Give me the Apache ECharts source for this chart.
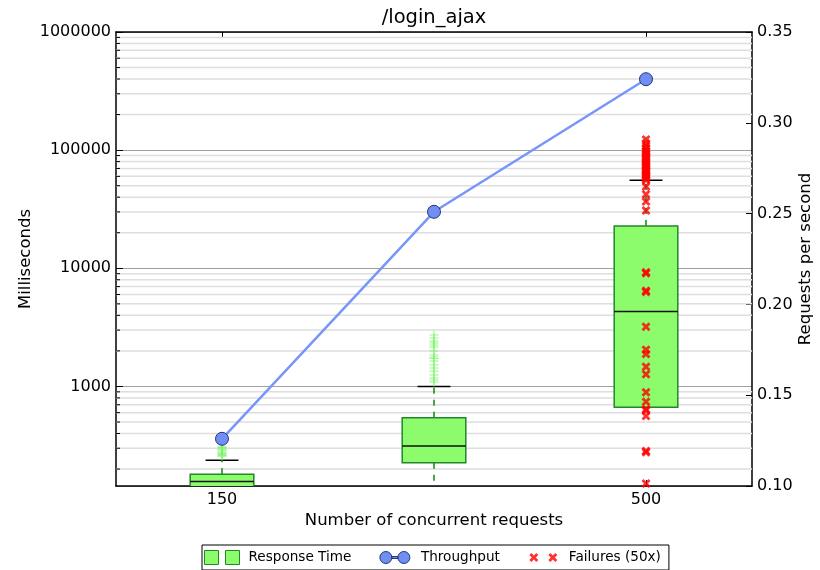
<!DOCTYPE html>
<html>
<head>
<meta charset="utf-8">
<title>/login_ajax</title>
<script src="https://cdn.jsdelivr.net/npm/echarts@6/dist/echarts.min.js"></script>
<style>
  html, body { margin: 0; padding: 0; background: #fff; }
  #chart { width: 820px; height: 570px; }
</style>
</head>
<body>
<div id="chart"></div>
<script>
// Concurrency levels (x categories)
const concurrency = ['150', '', '500'];

// Response time box statistics, milliseconds
const whiskerLow  = [120, 110, 667];
const quartile1   = [130, 226, 667];
const medians     = [157, 313, 4300];
const quartile3   = [181, 544, 22860];
const whiskerHigh = [237, 1000, 55700];

// Response time outliers per concurrency level, milliseconds
const outliers150 = [256, 261, 266, 271, 277, 284, 291, 297, 304, 309];
const outliersMid = [2730, 2576, 2430, 2335, 2245, 2160, 2000, 1848, 1778, 1727,
                     1644, 1521, 1435, 1353, 1251, 1180, 1135, 1092];
const outliers500 = [58000, 63000, 70000, 78000, 88000, 99000, 110000, 121000];

// Failed (50x) request times at concurrency 500, milliseconds
const failures500 = [123000, 114000, 108000, 103000, 99000, 96000, 93000, 90000,
                     87500, 85000, 82000, 79500, 77500, 75500, 73500, 71500,
                     69500, 67500, 66000, 64000, 62000, 60500, 59000, 57500, 56000,
                     49200, 42400, 36700, 30800,
                     9250, 9100, 6450, 6300, 3200, 2040, 1880, 1470, 1270,
                     893, 743, 640, 625, 562, 284, 278, 151];

// Throughput, requests per second
const throughput = [0.126, 0.251, 0.324];

// Tick values of the millisecond axis
const majorTicks = [1000, 10000, 100000, 1000000];
const minorTicks = [200, 300, 400, 500, 600, 700, 800, 900,
                    2000, 3000, 4000, 5000, 6000, 7000, 8000, 9000,
                    20000, 30000, 40000, 50000, 60000, 70000, 80000, 90000,
                    200000, 300000, 400000, 500000, 600000, 700000, 800000, 900000];

// Right axis ticks
const rateMin = 0.10, rateMax = 0.35, rateStep = 0.05;

const FONT = 'DejaVu Sans';
const BOX_FILL = '#8cfc6c';
const BOX_EDGE = '#23862a';
const LINE_BLUE = '#7896fa';
const MARK_BLUE = '#6f8ff2';

const plusPath = 'path://M0,4H9V5H0Z M4,0H5V9H4Z';
const crossPath = 'path://M0,2L2,0L4.5,2.5L7,0L9,2L6.5,4.5L9,7L7,9L4.5,6.5L2,9L0,7L2.5,4.5Z';

function crossAt(cx, cy, s) {
  const h = s / 2, t = s / 4.5;
  const p = [[-h, -h + t], [-h + t, -h], [0, -t], [h - t, -h], [h, -h + t], [t, 0],
             [h, h - t], [h - t, h], [0, t], [-h + t, h], [-h, h - t], [-t, 0]];
  return 'M' + p.map(q => (cx + q[0]) + ',' + (cy + q[1])).join('L') + 'Z';
}
function circleAt(cx, cy, r) {
  return `M${cx + r},${cy}A${r},${r} 0 1,1 ${cx - r},${cy}A${r},${r} 0 1,1 ${cx + r},${cy}Z`;
}

// Legend icons, drawn in a 35x14 box
const iconBoxes = 'path://M0,0H14V14H0Z M21,0H35V14H21Z';
const iconThroughput = 'path://M0,0 M35,14 ' + circleAt(9, 7, 6) +
  ' M15,6H21V8H15Z ' + circleAt(27, 7, 6);
const iconFailures = 'path://M0,0 M35,14 ' + crossAt(9, 7, 9) + ' ' + crossAt(28, 7, 9);

const boxData = concurrency.map((c, i) =>
  [i, whiskerLow[i], quartile1[i], medians[i], quartile3[i], whiskerHigh[i]]);

const outlierData = []
  .concat(outliers150.map(v => [0, v]))
  .concat(outliersMid.map(v => [1, v]))
  .concat(outliers500.map(v => [2, v]));

function renderBox(params, api) {
  const cat = api.value(0);
  const lo = api.coord([cat, api.value(1)]);
  const q1 = api.coord([cat, api.value(2)]);
  const md = api.coord([cat, api.value(3)]);
  const q3 = api.coord([cat, api.value(4)]);
  const hi = api.coord([cat, api.value(5)]);
  const band = api.size([1, 0])[0];
  const bw = band * 0.3, cw = band * 0.155;
  const x = md[0];
  const children = [];
  const whisker = { stroke: '#0a8a0a', lineWidth: 1.5, lineDash: [6, 6] };
  const cap = { stroke: '#000', lineWidth: 1.5 };
  if (api.value(1) < api.value(2)) {
    children.push({ type: 'line', shape: { x1: x, y1: q1[1], x2: x, y2: lo[1] }, style: whisker });
    children.push({ type: 'line', shape: { x1: x - cw / 2, y1: lo[1], x2: x + cw / 2, y2: lo[1] }, style: cap });
  }
  if (api.value(5) > api.value(4)) {
    children.push({ type: 'line', shape: { x1: x, y1: q3[1], x2: x, y2: hi[1] }, style: whisker });
    children.push({ type: 'line', shape: { x1: x - cw / 2, y1: hi[1], x2: x + cw / 2, y2: hi[1] }, style: cap });
  }
  children.push({
    type: 'rect',
    shape: { x: x - bw / 2, y: q3[1], width: bw, height: q1[1] - q3[1] },
    style: { fill: BOX_FILL, stroke: BOX_EDGE, lineWidth: 1.5 }
  });
  children.push({ type: 'line', shape: { x1: x - bw / 2, y1: md[1], x2: x + bw / 2, y2: md[1] },
                  style: { stroke: '#111', lineWidth: 1.5 } });
  return { type: 'group', children };
}

function renderMinorGrid(params, api) {
  const y = api.coord([0, api.value(1)])[1];
  const cs = params.coordSys;
  return {
    type: 'group',
    children: [
      { type: 'line', shape: { x1: cs.x, y1: y, x2: cs.x + cs.width, y2: y },
        style: { stroke: '#dedede', lineWidth: 1.5 } },
      { type: 'line', shape: { x1: cs.x, y1: y, x2: cs.x + 4, y2: y },
        style: { stroke: '#000', lineWidth: 1 } }
    ]
  };
}

const chart = echarts.init(document.getElementById('chart'), null, { renderer: 'canvas' });

const tickShown = (idx, val) => val !== '';

chart.setOption({
  animation: false,
  backgroundColor: '#fff',
  textStyle: { fontFamily: FONT, color: '#000' },
  title: {
    text: '/login_ajax',
    left: 434,
    top: 8,
    padding: 0,
    textAlign: 'center',
    textStyle: { fontFamily: FONT, fontSize: 19.5, fontWeight: 'normal', color: '#000' }
  },
  grid: { left: 116, right: 68, top: 32, bottom: 84, containLabel: false, outerBoundsMode: 'none' },
  legend: {
    left: 202,
    top: 545,
    orient: 'horizontal',
    padding: [5, 8, 5, 2],
    itemGap: 25,
    itemWidth: 35,
    itemHeight: 14,
    borderColor: '#000',
    borderWidth: 1,
    borderRadius: 0,
    backgroundColor: '#fff',
    selectedMode: false,
    textStyle: { fontFamily: FONT, fontSize: 13.6, color: '#000', padding: [0, 0, 0, 4] },
    data: [
      { name: 'Response Time', icon: iconBoxes,
        itemStyle: { color: BOX_FILL, borderColor: BOX_EDGE, borderWidth: 1 } },
      { name: 'Throughput', icon: iconThroughput,
        itemStyle: { color: MARK_BLUE, borderColor: '#26347a', borderWidth: 1 } },
      { name: 'Failures (50x)', icon: iconFailures,
        itemStyle: { color: '#ff0000', borderWidth: 0 } }
    ]
  },
  xAxis: [
    {
      type: 'category',
      data: concurrency,
      position: 'bottom',
      boundaryGap: true,
      name: 'Number of concurrent requests',
      nameLocation: 'middle',
      nameGap: 26,
      nameMoveOverlap: false,
      nameTextStyle: { fontFamily: FONT, fontSize: 16.5, color: '#000' },
      axisLine: { show: true, lineStyle: { color: '#000', width: 1.5 } },
      axisTick: { show: true, inside: true, length: 6, alignWithLabel: true, interval: tickShown,
                  lineStyle: { color: '#000' } },
      axisLabel: { fontFamily: FONT, fontSize: 16, color: '#000', margin: 6, interval: 0 },
      splitLine: { show: false }
    },
    {
      type: 'category',
      data: concurrency,
      position: 'top',
      boundaryGap: true,
      axisLine: { show: true, lineStyle: { color: '#000', width: 1.5 } },
      axisTick: { show: true, inside: true, length: 6, alignWithLabel: true, interval: tickShown,
                  lineStyle: { color: '#000' } },
      axisLabel: { show: false },
      splitLine: { show: false }
    }
  ],
  yAxis: [
    {
      type: 'log',
      logBase: 10,
      min: 143.7,
      max: 1000000,
      position: 'left',
      name: 'Milliseconds',
      nameLocation: 'middle',
      nameRotate: 90,
      nameGap: 82,
      nameMoveOverlap: false,
      nameTextStyle: { fontFamily: FONT, fontSize: 16.5, color: '#000' },
      axisLine: { show: true, lineStyle: { color: '#000', width: 1.5 } },
      axisTick: { show: true, inside: true, length: 7, lineStyle: { color: '#000' } },
      axisLabel: {
        fontFamily: FONT, fontSize: 16, color: '#000', margin: 5,
        showMinLabel: false,
        formatter: v => majorTicks.some(t => Math.abs(t - v) / t < 1e-6) ? String(Math.round(v)) : ''
      },
      splitLine: { show: true, lineStyle: { color: '#a0a0a0', width: 1 } }
    },
    {
      type: 'value',
      min: rateMin,
      max: rateMax,
      interval: rateStep,
      position: 'right',
      name: 'Requests per second',
      nameLocation: 'middle',
      nameRotate: 90,
      nameGap: 45,
      nameMoveOverlap: false,
      nameTextStyle: { fontFamily: FONT, fontSize: 16.5, color: '#000' },
      axisLine: { show: true, lineStyle: { color: '#000', width: 1.5 } },
      axisTick: { show: true, inside: true, length: 6, lineStyle: { color: '#000' } },
      axisLabel: { fontFamily: FONT, fontSize: 16, color: '#000', margin: 5,
                   formatter: v => v.toFixed(2) },
      splitLine: { show: false }
    }
  ],
  series: [
    {
      name: 'minor grid',
      type: 'custom',
      xAxisIndex: 0,
      yAxisIndex: 0,
      silent: true,
      z: 1,
      clip: true,
      renderItem: renderMinorGrid,
      data: minorTicks.map(v => [0, v])
    },
    {
      name: 'Response Time',
      type: 'custom',
      xAxisIndex: 0,
      yAxisIndex: 0,
      clip: true,
      z: 3,
      itemStyle: { color: BOX_FILL },
      renderItem: renderBox,
      data: boxData
    },
    {
      name: 'outliers',
      type: 'scatter',
      xAxisIndex: 0,
      yAxisIndex: 0,
      z: 4,
      symbol: plusPath,
      symbolSize: 9,
      itemStyle: { color: '#7cf56a', opacity: 0.8 },
      data: outlierData
    },
    {
      name: 'Failures (50x)',
      type: 'scatter',
      xAxisIndex: 0,
      yAxisIndex: 0,
      z: 5,
      symbol: crossPath,
      symbolSize: 9,
      itemStyle: { color: '#ff0000' },
      data: failures500.map(v => [2, v])
    },
    {
      name: 'Throughput',
      type: 'line',
      xAxisIndex: 0,
      yAxisIndex: 1,
      z: 6,
      symbol: 'circle',
      symbolSize: 13,
      showAllSymbol: true,
      lineStyle: { color: LINE_BLUE, width: 2.5 },
      itemStyle: { color: MARK_BLUE, borderColor: '#26347a', borderWidth: 1 },
      data: throughput
    }
  ]
});
</script>
</body>
</html>
